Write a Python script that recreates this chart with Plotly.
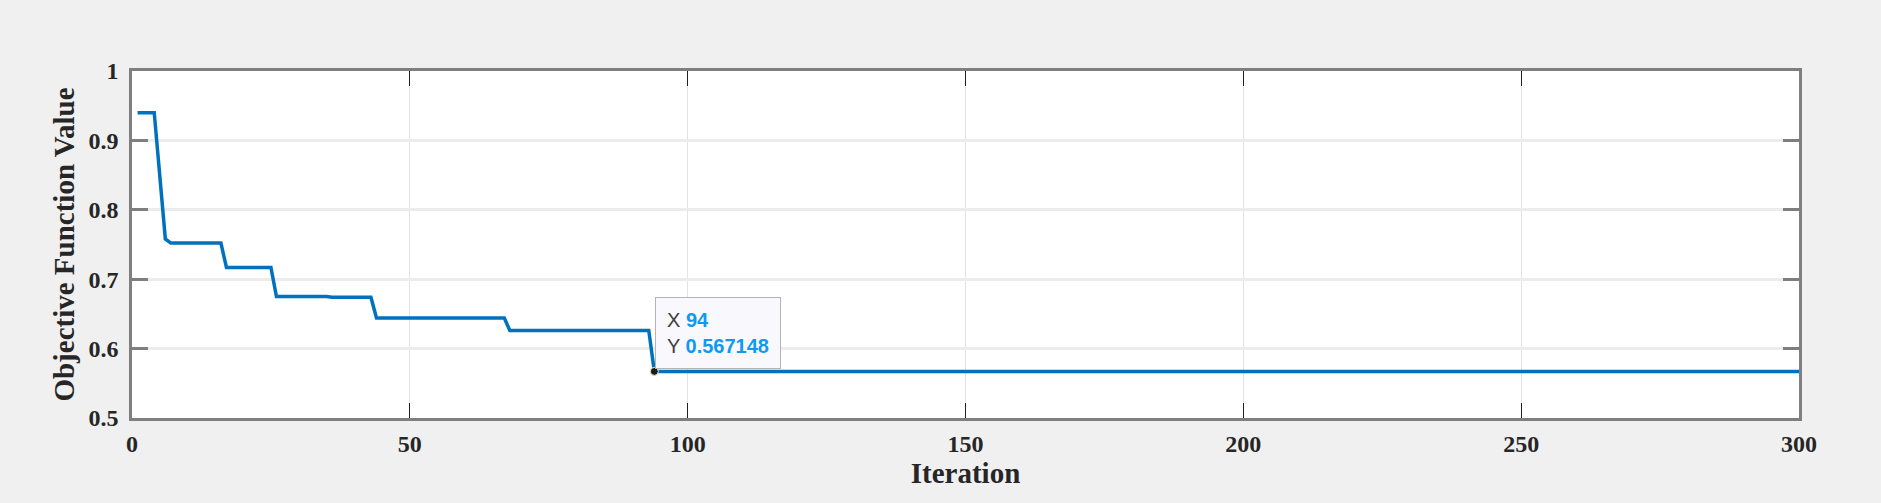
import plotly.graph_objects as go

# Iterationen, an denen sich der Zielfunktionswert ändert
iterations = [1, 4, 6, 7, 16, 17, 25, 26, 35, 36, 43, 44, 67, 68, 93, 94, 300]
objective = [0.940, 0.940, 0.758, 0.752, 0.752, 0.717, 0.717, 0.675, 0.675,
             0.674, 0.674, 0.644, 0.644, 0.626, 0.626, 0.567148, 0.567148]

# Markierter Datenpunkt
tip_x = 94
tip_y = 0.567148

x_ticks = [0, 50, 100, 150, 200, 250, 300]
y_ticks = [0.5, 0.6, 0.7, 0.8, 0.9, 1]
y_labels = ["0.5", "0.6", "0.7", "0.8", "0.9", "1"]

fig = go.Figure()

fig.add_trace(go.Scatter(
    x=iterations, y=objective, mode="lines",
    line=dict(color="#0072BD", width=3.5),
    showlegend=False,
))

fig.add_trace(go.Scatter(
    x=[tip_x], y=[tip_y], mode="markers",
    marker=dict(color="#1a1a1a", size=8, line=dict(color="#f5f0c0", width=1)),
    showlegend=False,
))

fig.add_annotation(
    x=tip_x, y=tip_y, xanchor="left", yanchor="bottom",
    xshift=1, yshift=2, showarrow=False, align="left",
    text=("<span style='color:#404040'>X</span> <b style='color:#0f9af0'>%d</b><br>"
          "<span style='color:#404040'>Y</span> <b style='color:#0f9af0'>%s</b>")
         % (tip_x, "0.567148"),
    font=dict(family="Arial, Liberation Sans", size=20),
    bgcolor="#f8f8fd", bordercolor="#b4b4b4", borderwidth=1, borderpad=11,
)

title_font = dict(family="Liberation Serif", size=29, color="#262626")
tick_font = dict(family="Liberation Serif", size=24, color="#262626")

fig.update_xaxes(
    range=[0, 300], tickvals=x_ticks, ticktext=["<b>%d</b>" % v for v in x_ticks],
    title=dict(text="<b>Iteration</b>", font=title_font, standoff=8),
    tickfont=tick_font,
    showline=True, linecolor="#7f7f7f", linewidth=2.5, mirror="allticks",
    ticks="inside", ticklen=15, tickcolor="#202020", tickwidth=1,
    showgrid=True, gridcolor="#e3e3e3", gridwidth=1, zeroline=False,
    ticklabelstandoff=2,
)
fig.update_yaxes(
    range=[0.5, 1], tickvals=y_ticks, ticktext=["<b>%s</b>" % s for s in y_labels],
    title=dict(text="<b>Objective Function Value</b>", font=title_font, standoff=6),
    tickfont=tick_font,
    showline=True, linecolor="#7f7f7f", linewidth=2.5, mirror="allticks",
    ticks="inside", ticklen=16, tickcolor="#7f7f7f", tickwidth=2.5,
    showgrid=True, gridcolor="#ececec", gridwidth=2.5, zeroline=False,
    ticklabelstandoff=6,
)

fig.update_layout(
    width=1881, height=503,
    margin=dict(l=132, r=82, t=71, b=85),
    paper_bgcolor="#f0f0f0", plot_bgcolor="#ffffff",
)

fig.write_html(
    "out.html",
    config={"displayModeBar": False},
    post_script="document.body.style.margin='0';document.body.style.background='#f0f0f0';",
)
